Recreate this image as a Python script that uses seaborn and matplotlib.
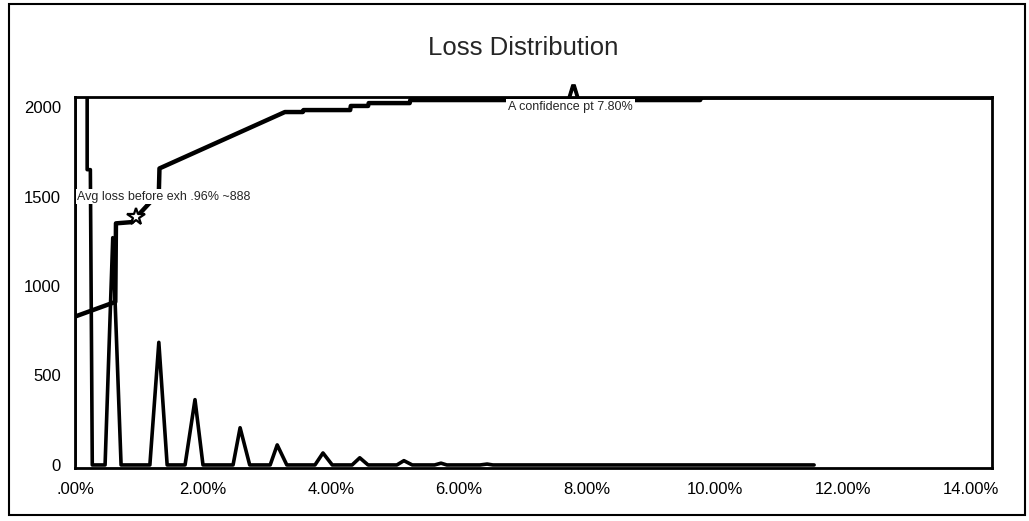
import numpy as np
import pandas as pd
import matplotlib
matplotlib.use("Agg")
import matplotlib.pyplot as plt
import seaborn as sns
from matplotlib.patches import Rectangle

# loss distribution (spiky frequency curve), x in percent of loss
hist_x = [0.0, 0.0, 0.19, 0.19, 0.24, 0.27,
          0.47, 0.59, 0.72,
          1.17, 1.31, 1.44,
          1.72, 1.875, 2.0,
          2.47, 2.58, 2.73,
          3.05, 3.16, 3.31,
          3.75, 3.875, 4.02,
          4.33, 4.45, 4.58,
          5.03, 5.14, 5.27,
          5.62, 5.72, 5.81,
          6.33, 6.44, 6.53,
          11.55]
hist_y = [0, 2300, 2300, 1650, 1650, 0,
          0, 1270, 0,
          0, 685, 0,
          0, 365, 0,
          0, 208, 0,
          0, 112, 0,
          0, 67, 0,
          0, 40, 0,
          0, 24, 0,
          0, 10, 0,
          0, 5, 0,
          0]

# cumulative curve
cum_x = [0.0, 0.63, 0.64, 0.89, 0.96, 1.31, 1.32, 3.28, 3.56, 3.57, 4.30, 4.31,
         4.58, 4.59, 5.23, 5.24, 9.77, 9.78, 14.33]
cum_y = [829, 911, 1350, 1357, 1385, 1520, 1657, 1972, 1972, 1983, 1983, 2006,
         2006, 2022, 2022, 2039, 2039, 2052, 2052]

xticks = [0, 2, 4, 6, 8, 10, 12, 14]
xtick_labels = [".00%", "2.00%", "4.00%", "6.00%", "8.00%", "10.00%", "12.00%", "14.00%"]
yticks = [0, 500, 1000, 1500, 2000]

avg_loss_x, avg_loss_y = 0.96, 1385
conf_x, conf_y = 7.78, 2085

sns.set_style("white")
plt.rcParams['font.family'] = ['Liberation Sans', 'DejaVu Sans']

fig = plt.figure(figsize=(10.29, 5.21), dpi=100)
ax = fig.add_axes([75 / 1029, 1 - 468 / 521, (992 - 75) / 1029, (468 - 97) / 521])

df_hist = pd.DataFrame({"loss": hist_x, "freq": hist_y})
df_cum = pd.DataFrame({"loss": cum_x, "freq": cum_y})
sns.lineplot(data=df_hist, x="loss", y="freq", estimator=None, sort=False,
             color="black", lw=2.6, ax=ax)
sns.lineplot(data=df_cum, x="loss", y="freq", estimator=None, sort=False,
             color="black", lw=3.2, ax=ax)

# markers
ax.plot(avg_loss_x, avg_loss_y, marker="*", ms=13, mfc="white", mec="black",
        mew=1.6, zorder=5)
ax.plot(conf_x, conf_y, marker=r"$\wedge$", ms=11, color="black", clip_on=False,
        zorder=5)

# labels with white background
ax.text(0.03, 1500, "Avg loss before exh .96% ~888", fontsize=9, ha="left",
        va="center", zorder=6,
        bbox=dict(facecolor="white", edgecolor="none", pad=1.0))
ax.text(6.77, 2000, "A confidence pt 7.80%", fontsize=9, ha="left", va="center",
        zorder=6, bbox=dict(facecolor="white", edgecolor="none", pad=1.5))

ax.set_xlim(0, 14.33)
ax.set_ylim(-17, 2056)
ax.set_xticks(xticks)
ax.set_xticklabels(xtick_labels)
ax.set_yticks(yticks)
ax.set_xlabel("")
ax.set_ylabel("")
ax.tick_params(axis="both", direction="out", length=6, width=1.5, labelsize=12,
               colors="black", pad=4)
for s in ax.spines.values():
    s.set_linewidth(2)
    s.set_color("black")

fig.text(523 / 1029, 1 - 48 / 521, "Loss Distribution", fontsize=18.5,
         ha="center", va="center")

# outer frame
fig.patches.append(Rectangle((9 / 1029, 6 / 521), 1016 / 1029, 511 / 521,
                             transform=fig.transFigure, fill=False,
                             edgecolor="black", lw=1.5))

fig.savefig("out.png", dpi=100)
